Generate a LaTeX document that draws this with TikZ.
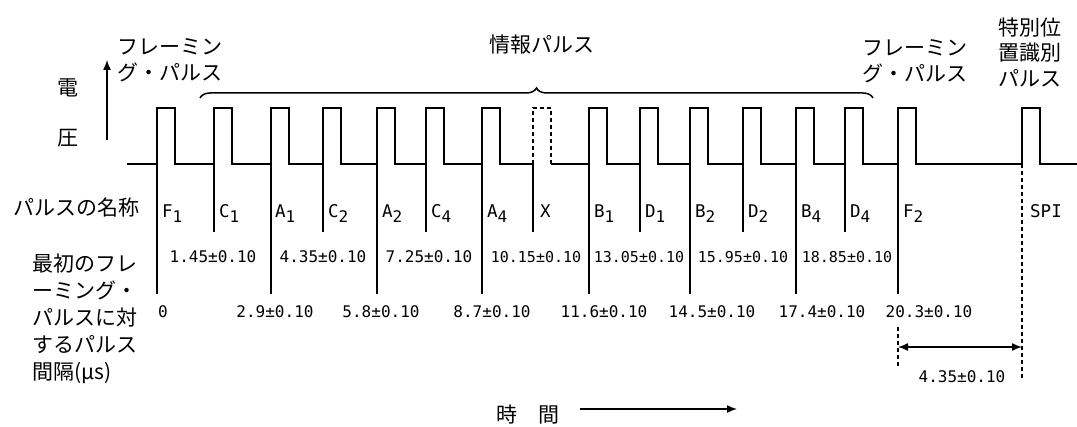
\documentclass[tikz,border=0pt]{standalone}
\usepackage{fontspec}
\newfontfamily\jpfont{Noto Sans CJK JP}
\newfontfamily\monofont{DejaVu Sans Mono}
\usetikzlibrary{decorations.pathreplacing,arrows.meta}
\newcommand\psub[1]{\raisebox{-5pt}{\fontsize{16}{16}\selectfont #1}}
\begin{document}
\begin{tikzpicture}[x=1pt,y=-1pt,
  jlab/.style={font=\jpfont\fontsize{21}{26}\selectfont, inner sep=0pt},
  nlab/.style={font=\monofont\fontsize{16}{17}\selectfont, inner sep=0pt},
  nlabw/.style={font=\monofont\fontsize{15}{16}\selectfont, inner sep=0pt},
  plab/.style={font=\monofont\fontsize{17.5}{18}\selectfont, inner sep=0pt, anchor=base west},
  wave/.style={line width=1.8pt, line join=miter},
  tick/.style={line width=1.8pt},
  guide/.style={line width=1.6pt, dash pattern=on 4pt off 3pt},
  arr/.style={line width=1.4pt, -{Latex[length=10pt,width=8pt]}},
  dimarr/.style={line width=1.4pt, {Latex[length=10pt,width=8pt]}-{Latex[length=10pt,width=8pt]}},
]
\useasboundingbox (0,0) rectangle (1077,427);

% waveform
\draw[wave] (127,164) \foreach \x in {157,214,271,323,377,426,482}{ -- (\x,164) -- (\x,108) -- (\x+18,108) -- (\x+18,164)} -- (533,164);
\draw[wave, dash pattern=on 4pt off 3pt] (533,164) -- (533,108) -- (551,108) -- (551,164);
\draw[wave] (551,164) \foreach \x in {589,640,690,743,796,845,898,1022}{ -- (\x,164) -- (\x,108) -- (\x+18,108) -- (\x+18,164)} -- (1077,164);

% ticks under pulses
\foreach \x in {157,271,377,482,589,690,796,898} \draw[tick] (\x,164) -- (\x,294);
\foreach \x in {214,323,426,533,640,743,845} \draw[tick] (\x,164) -- (\x,232);
\draw[guide] (1022,164) -- (1022,378);
\draw[guide] (898,327) -- (898,367);

% brace
\draw[line width=1.5pt, decorate, decoration={brace, amplitude=10pt}] (200,98) -- (873,98);

% left labels and voltage arrow
\node[jlab] (den) at (68,88) {電};
\node[jlab] (atsu) at (68,138) {圧};
\coordinate (vlo) at (107,140);
\coordinate (vhi) at (107,60);
\draw[arr] (vlo) -- (vhi);

\node[jlab, anchor=west, align=left] (fl1) at (117,60) {フレーミン\\グ・パルス};
\node[jlab, anchor=west, align=left] (fl2) at (862,61) {フレーミン\\グ・パルス};
\node[jlab] (info) at (542,45) {情報パルス};
\node[jlab, align=center, font=\jpfont\fontsize{21}{25.5}\selectfont] (spil) at (1030,52) {特別位\\置識別\\パルス};
\node[jlab, anchor=west] (pname) at (13,208) {パルスの名称};
\node[jlab, anchor=west, align=left, font=\jpfont\fontsize{21}{27}\selectfont] (ivl) at (32,319) {最初のフレ\\ーミング・\\パルスに対\\するパルス\\間隔(μs)};

% pulse names
\node[plab] (nF1) at (162,218) {F\psub{1}};
\node[plab] (nC1) at (219,218) {C\psub{1}};
\node[plab] (nA1) at (275,218) {A\psub{1}};
\node[plab] (nC2) at (328,218) {C\psub{2}};
\node[plab] (nA2) at (382,218) {A\psub{2}};
\node[plab] (nC4) at (431,218) {C\psub{4}};
\node[plab] (nA4) at (487,218) {A\psub{4}};
\node[plab] (nX) at (540,218) {X};
\node[plab] (nB1) at (594,218) {B\psub{1}};
\node[plab] (nD1) at (645,218) {D\psub{1}};
\node[plab] (nB2) at (695,218) {B\psub{2}};
\node[plab] (nD2) at (748,218) {D\psub{2}};
\node[plab] (nB4) at (801,218) {B\psub{4}};
\node[plab] (nD4) at (850,218) {D\psub{4}};
\node[plab] (nF2) at (903,218) {F\psub{2}};
\node[plab] (nSPI) at (1030,218) {SPI};

% upper row of intervals
\node[nlab] (u1) at (213,257) {1.45±0.10};
\node[nlab] (u2) at (323,257) {4.35±0.10};
\node[nlab] (u3) at (429,257) {7.25±0.10};
\node[nlabw] (u4) at (536,257) {10.15±0.10};
\node[nlabw] (u5) at (639,257) {13.05±0.10};
\node[nlabw] (u6) at (743,257) {15.95±0.10};
\node[nlabw] (u7) at (847,257) {18.85±0.10};

% lower row of intervals
\node[nlab] (l0) at (163,312) {0};
\node[nlab] (l1) at (275,312) {2.9±0.10};
\node[nlab] (l2) at (381,312) {5.8±0.10};
\node[nlab] (l3) at (492,312) {8.7±0.10};
\node[nlab] (l4) at (604,312) {11.6±0.10};
\node[nlab] (l5) at (712,312) {14.5±0.10};
\node[nlab] (l6) at (822,312) {17.4±0.10};
\node[nlab] (l7) at (929,312) {20.3±0.10};

% SPI spacing
\coordinate (dimL) at (898,347);
\coordinate (dimR) at (1022,347);
\draw[dimarr] (dimL) -- (dimR);
\node[nlab] (spival) at (962,377) {4.35±0.10};

% time axis
\node[jlab] (time) at (528,415) {時　間};
\coordinate (tL) at (580,409);
\coordinate (tR) at (737,409);
\draw[arr] (tL) -- (tR);
\end{tikzpicture}
\end{document}
